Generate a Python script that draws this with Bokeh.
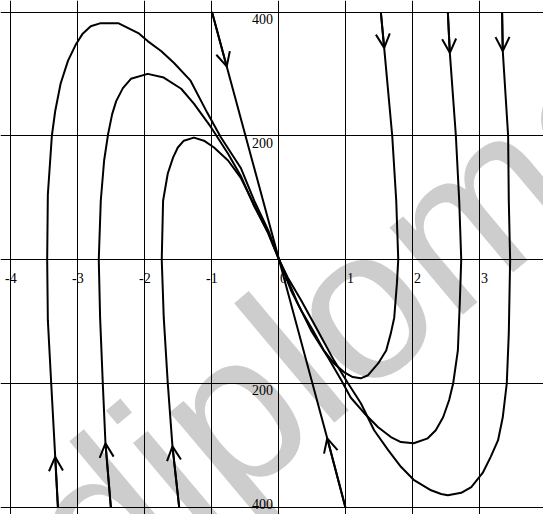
import math
from bokeh.plotting import figure
from bokeh.models import Range1d, FixedTicker, Arrow, OpenHead, Label, ColumnDataSource
from bokeh.core.properties import value
from bokeh.embed import file_html
from bokeh.resources import INLINE

# ---- axis ticks / labels ----
x_ticks = [-4, -3, -2, -1, 0, 1, 2, 3]
x_tick_labels = ["-4", "-3", "-2", "-1", "0", "1", "2", "3"]
y_ticks = [-400, -200, 0, 200, 400]
y_label_values = [400, 200, -200, -400]
y_tick_labels = ["400", "200", "200", "400"]

# ---- straight separatrix (two halves running into the origin) ----
line_top_x = [-1.00, -0.78, 0.0]
line_top_y = [400, 312, 0]
line_bot_x = [0.99, 0.72, 0.0]
line_bot_y = [-400, -289, 0]

# ---- left family (start at bottom, move up, then into origin) ----
curve_a_x = [-3.30, -3.34, -3.40, -3.45, -3.46, -3.45, -3.39, -3.34, -3.26, -3.15, -3.03, -2.93,
             -2.81, -2.66, -2.40, -2.25, -2.10, -1.96, -1.76, -1.57, -1.32, -1.07, -0.87, -0.57,
             -0.37, -0.16, 0.0]
curve_a_y = [-400, -319, -200, -98, 0, 105, 200, 240, 284, 321, 348, 365,
             377, 382, 382, 374, 366, 353, 337, 318, 289, 237, 198, 148,
             95, 47, 0]

curve_b_x = [-2.51, -2.59, -2.63, -2.67, -2.69, -2.66, -2.61, -2.55, -2.49, -2.43, -2.33, -2.21,
             -1.96, -1.72, -1.46, -1.27, -1.01, -0.76, -0.57, -0.37, -0.16, 0.0]
curve_b_y = [-400, -297, -200, -94, 0, 95, 160, 203, 235, 256, 277, 292,
             300, 294, 276, 252, 213, 171, 135, 86, 43, 0]

curve_c_x = [-1.49, -1.59, -1.66, -1.72, -1.75, -1.73, -1.66, -1.58, -1.51, -1.42, -1.27, -1.12,
             -0.97, -0.76, -0.57, -0.37, -0.16, 0.0]
curve_c_y = [-400, -302, -200, -94, 0, 95, 139, 165, 181, 192, 197, 192,
             181, 160, 132, 88, 42, 0]

# ---- right family (start at top, move down, then into origin) ----
curve_d_x = [1.52, 1.57, 1.69, 1.75, 1.78, 1.76, 1.72, 1.67, 1.60, 1.48, 1.33, 1.22,
             1.10, 0.97, 0.82, 0.67, 0.51, 0.33, 0.18, 0.0]
curve_d_y = [400, 342, 200, 95, 0, -39, -94, -119, -147, -168, -187, -192,
             -190, -182, -168, -147, -115, -82, -50, 0]

curve_e_x = [2.52, 2.55, 2.64, 2.69, 2.72, 2.70, 2.67, 2.60, 2.54, 2.45, 2.34, 2.22,
             2.01, 1.82, 1.67, 1.48, 1.27, 1.07, 0.93, 0.73, 0.48, 0.28, 0.0]
curve_e_y = [400, 334, 200, 95, 0, -66, -147, -200, -227, -255, -276, -289,
             -297, -295, -287, -271, -248, -223, -195, -158, -115, -71, 0]

curve_f_x = [3.33, 3.34, 3.42, 3.43, 3.45, 3.43, 3.40, 3.34, 3.27, 3.16, 3.04, 2.87,
             2.72, 2.52, 2.42, 2.27, 2.01, 1.82, 1.63, 1.42, 1.22, 1.03, 0.82, 0.58,
             0.33, 0.13, 0.0]
curve_f_y = [400, 337, 200, 95, 0, -119, -200, -255, -292, -319, -345, -368,
             -377, -381, -379, -373, -356, -335, -308, -276, -232, -200, -163, -115,
             -66, -29, 0]

watermark_text = "diplome"

# ---- figure (Bokeh's page template has no body margin) ----
p = figure(width=543, height=514,
           x_range=Range1d(-4.1567, 3.948), y_range=Range1d(-412.12, 418.59),
           output_backend="svg", toolbar_location=None,
           x_axis_location=None, y_axis_location=None,
           min_border=0, min_border_left=0, min_border_right=0,
           min_border_top=0, min_border_bottom=0,
           outline_line_color=None,
           background_fill_color="white", border_fill_color="white")

p.xgrid.ticker = FixedTicker(ticks=x_ticks)
p.ygrid.ticker = FixedTicker(ticks=y_ticks)
for g in (p.xgrid, p.ygrid):
    g.grid_line_color = "black"
    g.grid_line_alpha = 1.0
    g.grid_line_width = 1

# watermark
wm = Label(x=0.97, y=-93, text=watermark_text, angle=math.radians(40),
           text_align="center", text_baseline="middle",
           text_font="Liberation Sans", text_font_size="215px",
           text_color="#cdcdcd", level="image")
p.add_layout(wm)

curves = [
    (line_top_x, line_top_y), (line_bot_x, line_bot_y),
    (curve_a_x, curve_a_y), (curve_b_x, curve_b_y), (curve_c_x, curve_c_y),
    (curve_d_x, curve_d_y), (curve_e_x, curve_e_y), (curve_f_x, curve_f_y),
]
for cx, cy in curves:
    p.line(cx, cy, line_color="black", line_width=2, line_join="round")
    p.add_layout(Arrow(end=OpenHead(size=14, line_width=2, line_color="black"),
                       x_start=cx[0], y_start=cy[0], x_end=cx[1], y_end=cy[1],
                       line_width=2, line_color="black"))

# tick labels
src_x = ColumnDataSource(dict(
    x=x_ticks, y=[0] * len(x_ticks), text=x_tick_labels,
    xo=[-6 if t.startswith("-") else 1 for t in x_tick_labels]))
p.text(x="x", y="y", text="text", x_offset="xo", y_offset=18, source=src_x,
       text_font=value("Liberation Serif"), text_font_size="14px",
       text_align="left", text_baseline="alphabetic", text_color="black")

src_y = ColumnDataSource(dict(
    x=[0] * len(y_label_values), y=y_label_values, text=y_tick_labels,
    yo=[7, 7, 7, -3]))
p.text(x="x", y="y", text="text", x_offset=-6, y_offset="yo", source=src_y,
       text_font=value("Liberation Serif"), text_font_size="14px",
       text_align="right", text_baseline="alphabetic", text_color="black")

open("out.html", "w").write(file_html(p, INLINE))
